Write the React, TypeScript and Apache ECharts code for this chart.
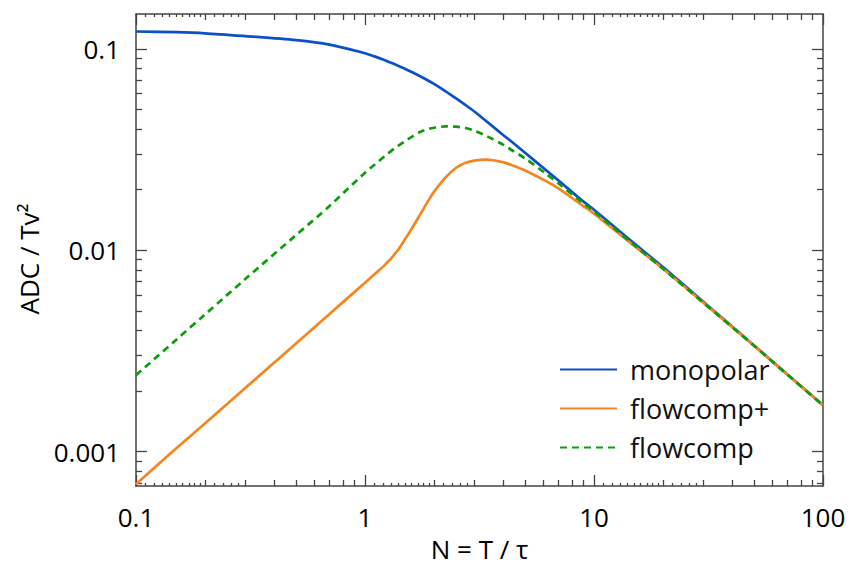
import React, { useEffect, useRef } from "react";
import * as echarts from "echarts";

// ---- data ----
const N = [0.1, 0.15, 0.2, 0.3, 0.5, 0.7, 1.0, 1.1, 1.2, 1.25, 1.3, 1.35, 1.4, 1.5, 1.6, 1.75, 1.9, 2.0, 2.25, 2.5, 2.75, 3.0, 3.4, 4.0, 4.4, 5.0, 6.2, 7.0, 8.7, 10, 15, 20, 30, 50, 70, 100];

const monopolar = [0.122, 0.121, 0.1195, 0.1157, 0.1105, 0.105, 0.0952, 0.0918, 0.0885, 0.0869, 0.0853, 0.0838, 0.0823, 0.0795, 0.0768, 0.0729, 0.0693, 0.067, 0.0616, 0.0568, 0.0526, 0.0489, 0.0436, 0.0375, 0.0344, 0.0305, 0.0249, 0.0222, 0.018, 0.0159, 0.0108, 0.00825, 0.00556, 0.00337, 0.00242, 0.0017];

const flowcompPlus = [0.00069, 0.00104, 0.00138, 0.00207, 0.00345, 0.00483, 0.0069, 0.0076, 0.0083, 0.0087, 0.0091, 0.0096, 0.0101, 0.0114, 0.0128, 0.0152, 0.0178, 0.0195, 0.023, 0.0257, 0.0272, 0.0279, 0.0282, 0.0274, 0.0264, 0.0249, 0.022, 0.0203, 0.017, 0.0152, 0.0105, 0.0081, 0.0055, 0.00336, 0.00241, 0.0017];

const flowcomp = [0.0024, 0.0036, 0.0048, 0.0072, 0.0119, 0.0166, 0.0243, 0.0266, 0.0289, 0.03, 0.0311, 0.0321, 0.0331, 0.0349, 0.0366, 0.0388, 0.0401, 0.0406, 0.0412, 0.0411, 0.0405, 0.0393, 0.0369, 0.0335, 0.0313, 0.0286, 0.0239, 0.0215, 0.0176, 0.0156, 0.0106, 0.0081, 0.0055, 0.00336, 0.00241, 0.0017];

const seriesNames = ["monopolar", "flowcomp+", "flowcomp"];

// axis ranges and ticks
const xMin = 0.1;
const xMax = 100;
const yMin = 0.000676;
const yMax = 0.149;
const xMajor = [0.1, 1, 10, 100];
const yMajor = [0.001, 0.01, 0.1];
const xDecades = [0.1, 1, 10];
const yDecades = [0.0001, 0.001, 0.01, 0.1];
const mediumMantissas = [2, 3, 4, 5, 6, 7, 8, 9];
const smallMantissas = [1.1, 1.2, 1.3, 1.4, 1.5, 1.6, 1.7, 1.8, 1.9, 2.2, 2.4, 2.6, 2.8];

const xMedium: number[] = [];
const xSmall: number[] = [];
xDecades.forEach((d) => {
  mediumMantissas.forEach((m) => xMedium.push(+(m * d).toPrecision(6)));
  smallMantissas.forEach((m) => xSmall.push(+(m * d).toPrecision(6)));
});
const yMinor: number[] = [];
yDecades.forEach((d) => {
  mediumMantissas.forEach((m) => {
    const v = +(m * d).toPrecision(6);
    if (v > yMin && v < yMax) yMinor.push(v);
  });
});

const FONT = "'Open Sans', 'DejaVu Sans', sans-serif";
const AXIS_COLOR = "#444";
const COLORS = ["#0a50c8", "#f5861f", "#0a9e0a"];

function fmt(v: number) {
  return String(parseFloat(Number(v).toPrecision(3)));
}

function xAxisDef(position: "top" | "bottom", ticks: number[], len: number, main: boolean, labels: boolean) {
  return {
    type: "log",
    logBase: 10,
    min: xMin,
    max: xMax,
    position,
    axisLine: { show: main, onZero: false, lineStyle: { color: AXIS_COLOR, width: 1.5 } },
    axisTick: { show: true, inside: true, length: len, customValues: ticks, lineStyle: { color: AXIS_COLOR, width: 1.3 } },
    axisLabel: labels
      ? { show: true, customValues: xMajor, formatter: fmt, fontSize: 26, fontFamily: FONT, color: "#000", margin: 18 }
      : { show: false },
    splitLine: { show: false },
    minorTick: { show: false },
    ...(labels
      ? {
          name: "N = T / τ",
          nameLocation: "middle",
          nameGap: 50,
          nameTextStyle: { fontSize: 26, fontFamily: FONT, color: "#000" },
        }
      : {}),
  };
}

function yAxisDef(position: "left" | "right", ticks: number[], len: number, main: boolean, labels: boolean) {
  return {
    type: "log",
    logBase: 10,
    min: yMin,
    max: yMax,
    position,
    axisLine: { show: main, onZero: false, lineStyle: { color: AXIS_COLOR, width: 1.5 } },
    axisTick: { show: true, inside: true, length: len, customValues: ticks, lineStyle: { color: AXIS_COLOR, width: 1.3 } },
    axisLabel: labels
      ? { show: true, customValues: yMajor, formatter: fmt, fontSize: 26, fontFamily: FONT, color: "#000", margin: 16 }
      : { show: false },
    splitLine: { show: false },
    minorTick: { show: false },
  };
}

export default function App() {
  const ref = useRef<HTMLDivElement>(null);
  useEffect(() => {
    document.body.style.margin = "0";
    if (!ref.current) return;
    const chart = echarts.init(ref.current, null, { renderer: "svg" });
    const pairs = (vals: number[]) => N.map((n, i) => [n, vals[i]]);
    const lineSeries = (i: number, vals: number[], extra: object = {}) => ({
      name: seriesNames[i],
      type: "line",
      data: pairs(vals),
      xAxisIndex: 0,
      yAxisIndex: 0,
      showSymbol: false,
      symbol: "none",
      smooth: 0.3,
      lineStyle: { color: COLORS[i], width: 2.7, ...extra },
      itemStyle: { color: COLORS[i] },
      z: 3 + i,
    });
    chart.setOption({
      animation: false,
      backgroundColor: "#fff",
      grid: { left: 136, right: 29, top: 14, bottom: 84, containLabel: false },
      xAxis: [
        xAxisDef("bottom", xMajor, 11, true, true),
        xAxisDef("bottom", xMedium, 6, false, false),
        xAxisDef("bottom", xSmall, 3, false, false),
        xAxisDef("top", xMajor, 11, true, false),
        xAxisDef("top", xMedium, 6, false, false),
        xAxisDef("top", xSmall, 3, false, false),
      ],
      yAxis: [
        yAxisDef("left", yMajor, 11, true, true),
        yAxisDef("left", yMinor, 6, false, false),
        yAxisDef("right", yMajor, 11, true, false),
        yAxisDef("right", yMinor, 6, false, false),
      ],
      legend: {
        orient: "vertical",
        left: 554,
        top: 351,
        itemWidth: 57,
        itemHeight: 14,
        itemGap: 12,
        data: seriesNames,
        itemStyle: { opacity: 0 },
        textStyle: { fontSize: 27, fontFamily: FONT, color: "#111", padding: [0, 0, 0, 8] },
      },
      graphic: [
        {
          type: "text",
          x: 29,
          y: 259,
          rotation: Math.PI / 2,
          style: {
            text: "ADC / Tv²",
            fontSize: 26,
            fontFamily: FONT,
            fill: "#000",
            align: "center",
            verticalAlign: "middle",
          },
        },
      ],
      series: [
        lineSeries(0, monopolar),
        lineSeries(1, flowcompPlus),
        lineSeries(2, flowcomp, { type: [7, 5] }),
      ],
    });
    return () => chart.dispose();
  }, []);
  return <div ref={ref} style={{ width: 852, height: 570 }} />;
}
